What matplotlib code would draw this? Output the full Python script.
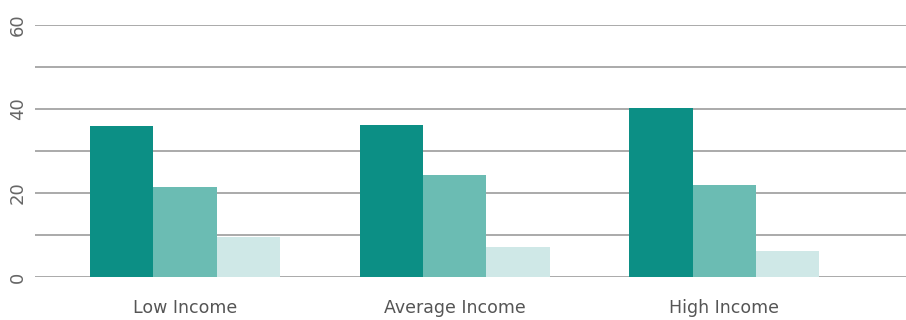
import matplotlib
matplotlib.use("Agg")
import matplotlib.pyplot as plt
import numpy as np

categories = ["Low Income", "Average Income", "High Income"]
series_1 = [36.0, 36.2, 40.2]
series_2 = [21.4, 24.3, 21.9]
series_3 = [9.5, 7.1, 6.2]
yticks = [0, 20, 40, 60]

colors = ["#0c8f85", "#6bbcb3", "#cfe8e7"]

fig = plt.figure(figsize=(9.06, 3.2), dpi=100)
ax = fig.add_axes([35 / 906, 43 / 320, 1 - 35 / 906, 252 / 320])

x = np.arange(len(categories))
width = 0.235
for i, (vals, c) in enumerate(zip([series_1, series_2, series_3], colors)):
    ax.bar(x + (i - 1) * width, vals, width, color=c, zorder=3, linewidth=0)

ax.set_ylim(0, 60)
ax.set_xlim(-0.556, 2.674)
ax.set_yticks(yticks)
ax.set_yticks(np.arange(0, 61, 10), minor=True)
ax.set_yticklabels([str(t) for t in yticks], rotation=90, va="center",
                   fontsize=13, color="#666666")
ax.set_xticks(x)
ax.set_xticklabels(categories, fontsize=12.5, color="#555555")
ax.tick_params(axis="y", which="both", length=0, pad=6)
ax.tick_params(axis="x", length=0, pad=16)
ax.grid(axis="y", which="both", color="#aaaaaa", linewidth=1.4, zorder=0)
for s in ax.spines.values():
    s.set_visible(False)

plt.savefig("out.png", dpi=100)
